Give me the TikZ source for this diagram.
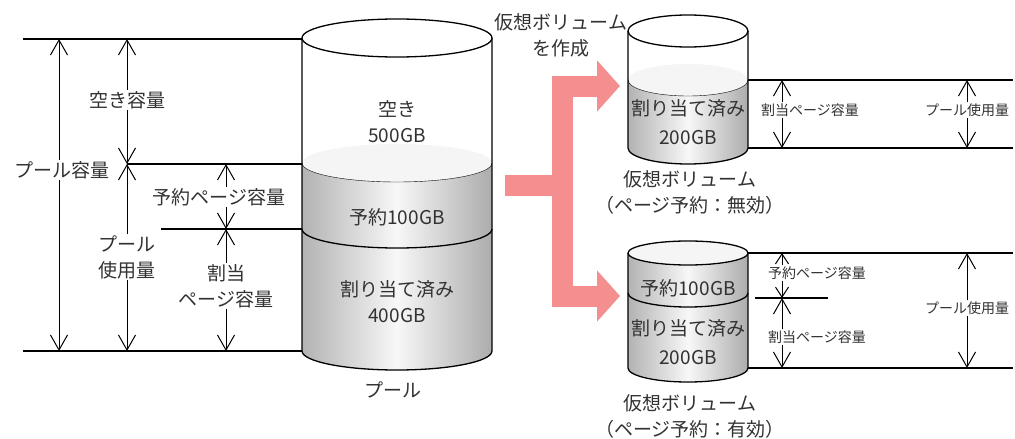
\documentclass[tikz,border=0pt]{standalone}
\usepackage{fontspec}
\setmainfont{Noto Sans CJK JP}
\usepackage{xcolor}
\usepackage{tikz}
\usetikzlibrary{arrows.meta}
\definecolor{fatpink}{RGB}{245,142,142}
\definecolor{inkgray}{RGB}{50,50,50}
% shaded side of a drum: centre x, half width, top y, bottom y, rim height
\newcommand{\drumbody}[5]{%
  \shade[body] (#1-#2,#3) -- (#1-#2,#4)
    arc[start angle=180, end angle=360, x radius=#2pt, y radius=#5pt]
    -- (#1+#2,#3)
    arc[start angle=0, end angle=-180, x radius=#2pt, y radius=#5pt] -- cycle;}

\begin{document}
\begin{tikzpicture}[x=1pt, y=-1pt,
  big/.style={font=\fontsize{19}{26}\selectfont, text=inkgray, align=center, inner sep=1pt},
  tiny/.style={font=\fontsize{14}{16}\selectfont, text=inkgray, inner sep=1pt},
  guide/.style={line width=1.1pt},
  dim/.style={-{Straight Barb[length=15pt,width=17pt]}, line width=1pt},
  dimsm/.style={-{Straight Barb[length=10pt,width=13pt]}, line width=1pt},
  fat/.style={draw=fatpink, line width=21pt, line join=miter, -{Triangle[length=23pt,width=50pt]}},
  body/.style={left color=gray!60, right color=gray!65, middle color=gray!6},
  rim/.style={line width=1.3pt}
]
\useasboundingbox (0,0) rectangle (1015,439);

% Pool cylinder
\drumbody{397}{95}{163}{351}{19}
\fill[gray!8] (397,163) ellipse[x radius=95pt, y radius=19pt];
\draw[thin] (302,163) arc[start angle=180, end angle=360, x radius=95pt, y radius=19pt];
\draw[rim] (302,229) arc[start angle=180, end angle=360, x radius=95pt, y radius=19pt];
\draw[rim] (302,38) -- (302,351) arc[start angle=180, end angle=360, x radius=95pt, y radius=19pt] -- (492,38);
\draw[rim, fill=white] (397,38) ellipse[x radius=95pt, y radius=19pt];
\node[big] (freeTxt) at (397,122) {空き\\500GB};
\node[big] (resTxt) at (397,217) {予約100GB};
\node[big] (allocTxt) at (397,302) {割り当て済み\\400GB};
\node[big] (poolCap) at (393,390) {プール};

% Left dimension lines
\draw[guide] (23,39) -- (302,39);
\draw[guide] (127,164) -- (302,164);
\draw[guide] (161,229) -- (302,229);
\draw[guide] (23,351) -- (302,351);
\coordinate (capTop) at (59,39);
\coordinate (capBot) at (59,351);
\coordinate (freeTop) at (127,39);
\coordinate (freeBot) at (127,164);
\coordinate (usedBot) at (127,351);
\coordinate (resTop) at (226,164);
\coordinate (resBot) at (226,229);
\coordinate (allocBot) at (226,351);
\node[big] (capLbl) at (62,170) {プール容量};
\node[big] (freeLbl) at (127,100) {空き容量};
\node[big] (usedLbl) at (127,257) {プール\\使用量};
\node[big] (resLbl) at (219,197) {予約ページ容量};
\node[big] (allocLbl) at (226,286) {割当\\ページ容量};
\draw[dim] (capLbl.north -| capTop) -- (capTop);
\draw[dim] (capLbl.south -| capBot) -- (capBot);
\draw[dim] (freeLbl.north -| freeTop) -- (freeTop);
\draw[dim] (freeLbl.south -| freeBot) -- (freeBot);
\draw[dim] (usedLbl.north -| freeBot) -- (freeBot);
\draw[dim] (usedLbl.south -| usedBot) -- (usedBot);
\draw[dim] (resLbl.north -| resTop) -- (resTop);
\draw[dim] (resLbl.south -| resBot) -- (resBot);
\draw[dim] (allocLbl.north -| resBot) -- (resBot);
\draw[dim] (allocLbl.south -| allocBot) -- (allocBot);

% Big pink arrow
\coordinate (poolOut) at (505,185.5);
\coordinate (fork) at (562,185.5);
\coordinate (volAIn) at (620,86);
\coordinate (volBIn) at (620,296);
\draw[fat] (poolOut) -- (fork) |- (volAIn);
\draw[fat] (fork) |- (volBIn);
\node[big] (makeLbl) at (561,35) {仮想ボリューム\\を作成};

% Volume A (reservation off)
\drumbody{688}{60}{80}{148}{16}
\fill[gray!8] (688,80) ellipse[x radius=60pt, y radius=16pt];
\draw[thin] (628,80) arc[start angle=180, end angle=360, x radius=60pt, y radius=16pt];
\draw[rim] (628,31) -- (628,148) arc[start angle=180, end angle=360, x radius=60pt, y radius=16pt] -- (748,31);
\draw[rim, fill=white] (688,31) ellipse[x radius=60pt, y radius=16pt];
\node[big] (volAtxt) at (688,122) {割り当て済み\\[3pt]200GB};
\node[big] (volAcap) at (690,192) {仮想ボリューム\\（ページ予約：無効）};

\draw[guide] (748,80) -- (1013,80);
\draw[guide] (748,148) -- (1013,148);
\coordinate (vaTop) at (782,80);
\coordinate (vaBot) at (782,148);
\coordinate (vaTop2) at (967,80);
\coordinate (vaBot2) at (967,148);
\node[tiny] (vaAlloc) at (810,110) {割当ページ容量};
\node[tiny] (vaUsed) at (967,110) {プール使用量};
\draw[dim] (vaAlloc.north -| vaTop) -- (vaTop);
\draw[dim] (vaAlloc.south -| vaBot) -- (vaBot);
\draw[dim] (vaUsed.north -| vaTop2) -- (vaTop2);
\draw[dim] (vaUsed.south -| vaBot2) -- (vaBot2);

% Volume B (reservation on)
\drumbody{688}{60}{253}{368}{13}
\draw[rim] (628,293) arc[start angle=180, end angle=360, x radius=60pt, y radius=14pt];
\draw[rim] (628,253) -- (628,368) arc[start angle=180, end angle=360, x radius=60pt, y radius=14pt] -- (748,253);
\draw[rim, fill=gray!8] (688,253) ellipse[x radius=60pt, y radius=12pt];
\node[big] (volBres) at (688,288) {予約100GB};
\node[big] (volBtxt) at (688,342) {割り当て済み\\[3pt]200GB};
\node[big] (volBcap) at (690,416) {仮想ボリューム\\（ページ予約：有効）};

\draw[guide] (748,253) -- (1013,253);
\draw[guide] (755,298) -- (828,298);
\draw[guide] (748,368) -- (1013,368);
\coordinate (vbTop) at (782,253);
\coordinate (vbMid) at (782,298);
\coordinate (vbBot) at (782,368);
\coordinate (vbTop2) at (967,253);
\coordinate (vbBot2) at (967,368);
\node[tiny] (vbRes) at (817,273) {予約ページ容量};
\node[tiny] (vbAlloc) at (817,337) {割当ページ容量};
\node[tiny] (vbUsed) at (967,308) {プール使用量};
\draw[dimsm] (vbRes.north -| vbTop) -- (vbTop);
\draw[dimsm] (vbRes.south -| vbMid) -- (vbMid);
\draw[dim] (vbAlloc.north -| vbMid) -- (vbMid);
\draw[dim] (vbAlloc.south -| vbBot) -- (vbBot);
\draw[dim] (vbUsed.north -| vbTop2) -- (vbTop2);
\draw[dim] (vbUsed.south -| vbBot2) -- (vbBot2);

\end{tikzpicture}
\end{document}
